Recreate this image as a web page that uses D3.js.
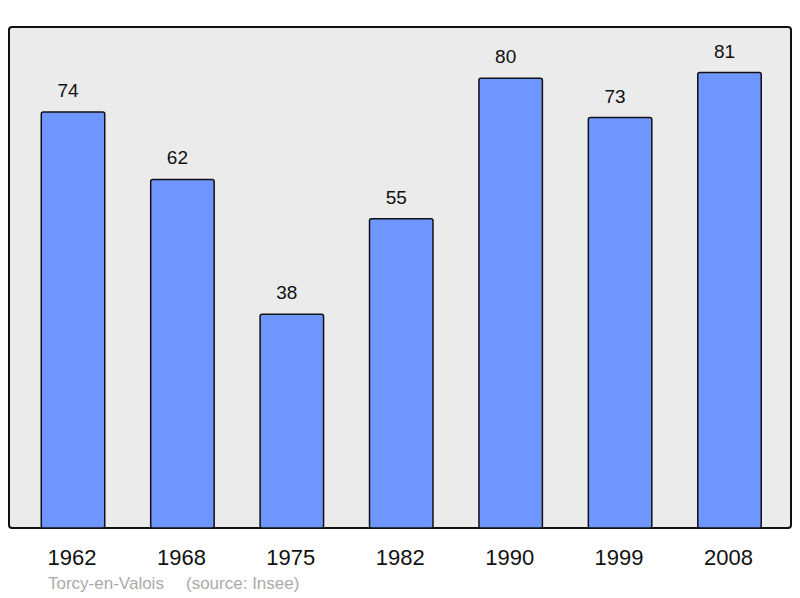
<!DOCTYPE html>
<html>
<head>
<meta charset="utf-8">
<style>
body { margin: 0; background: #fff; }
svg text { font-family: "Liberation Sans", Arial, sans-serif; }
.frame { fill: #ebebeb; stroke: #111; stroke-width: 2px; }
.bar { fill: #6f96ff; stroke: #111; stroke-width: 1.5px; }
</style>
</head>
<body>
<script src="https://cdn.jsdelivr.net/npm/d3@7"></script>
<script>
var years = ["1962", "1968", "1975", "1982", "1990", "1999", "2008"];
var population = [74, 62, 38, 55, 80, 73, 81];
var townName = "Torcy-en-Valois";
var sourceNote = "(source: Insee)";

var width = 800, height = 598;
var plot = { left: 9, top: 27, right: 791, bottom: 528 };

var svg = d3.select("body").append("svg")
    .attr("width", width)
    .attr("height", height);

// plot background
svg.append("rect")
    .classed("frame", true)
    .attr("x", plot.left)
    .attr("y", plot.top)
    .attr("width", plot.right - plot.left)
    .attr("height", plot.bottom - plot.top)
    .attr("rx", 3);

var x = d3.scaleBand()
    .domain(years)
    .range([18.3, 784.2])
    .paddingInner(0.42)
    .paddingOuter(0.21);

var y = d3.scaleLinear()
    .domain([0, d3.max(population) * 1.1])
    .range([plot.bottom, plot.top]);

var data = years.map(function (yr, i) { return { year: yr, value: population[i] }; });

svg.selectAll("rect.bar")
    .data(data)
  .enter().append("rect")
    .classed("bar", true)
    .attr("x", function (d) { return x(d.year); })
    .attr("y", function (d) { return y(d.value); })
    .attr("width", x.bandwidth())
    .attr("height", function (d) { return plot.bottom - y(d.value); })
    .attr("rx", 2);

// value labels (sit a little left of the bar centre)
svg.selectAll("text.val")
    .data(data)
  .enter().append("text")
    .attr("class", "val")
    .attr("x", function (d) { return x(d.year) + x.bandwidth() / 2 - 5; })
    .attr("y", function (d) { return y(d.value) - 15; })
    .attr("text-anchor", "middle")
    .style("font-size", "19px")
    .style("fill", "#111")
    .text(function (d) { return d.value; });

// x axis labels
var xAxis = d3.axisBottom(x).tickSize(0).tickPadding(0);
var xg = svg.append("g")
    .attr("transform", "translate(-1," + 557 + ")")
    .call(xAxis);
xg.select(".domain").remove();
xg.selectAll("text")
    .attr("dy", "0.35em")
    .style("font-size", "22px")
    .style("font-family", "'Liberation Sans', Arial, sans-serif")
    .style("fill", "#111");

svg.append("text")
    .attr("x", 48)
    .attr("y", 589)
    .style("font-size", "17px")
    .style("fill", "#aaaaaa")
    .text(townName);

svg.append("text")
    .attr("x", 186)
    .attr("y", 589)
    .style("font-size", "17px")
    .style("fill", "#aaaaaa")
    .text(sourceNote);
</script>
</body>
</html>
